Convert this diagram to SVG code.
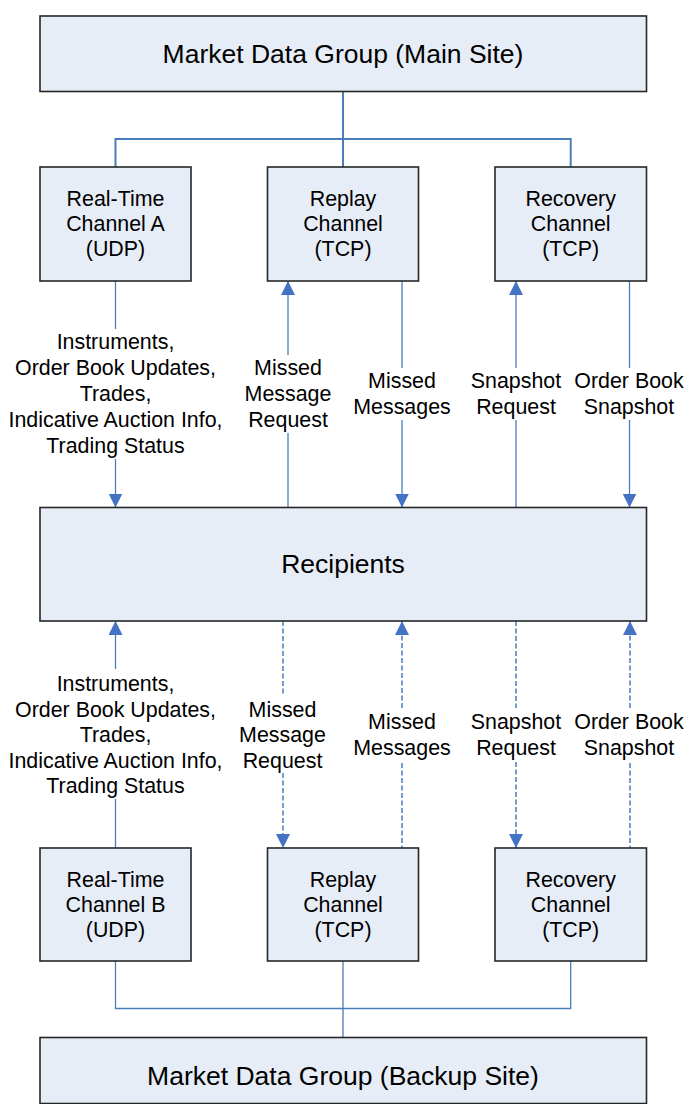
<svg xmlns="http://www.w3.org/2000/svg" width="685" height="1104" viewBox="0 0 685 1104">
<defs>
<style>
.box{fill:#E7EDF7;stroke:#262626;stroke-width:1.6}
.t{font-family:"Liberation Sans",Arial,sans-serif;font-size:21.4px;fill:#000;text-anchor:middle}
.tb{font-family:"Liberation Sans",Arial,sans-serif;font-size:26.5px;fill:#000;text-anchor:middle}
.tree{fill:none;stroke:#4A7EBB;stroke-width:2}
.tree2{fill:none;stroke:#4A7EBB;stroke-width:1.3}
.ln{fill:none;stroke:#4A7EBB;stroke-width:1.3}
.dash{fill:none;stroke:#4A7EBB;stroke-width:1.5;stroke-dasharray:5 2.5}
</style>
<marker id="ah" viewBox="0 0 14 14" refX="14" refY="7" markerWidth="14" markerHeight="14" markerUnits="userSpaceOnUse" orient="auto">
<path d="M0,0 L14,7 L0,14 z" fill="#4472C4"/>
</marker>
</defs>
<rect width="685" height="1104" fill="#fff"/>

<g id="connectors">
<path class="tree" d="M343,92 V139 M115.5,167 V139 H570.7 V167 M343,139 V167"/>
<path class="tree2" d="M115.5,961 V1008.5 H570.7 V961 M343,961 V1037.5"/>
<path class="ln" d="M115.5,281 V329"/>
<path class="ln" d="M115.5,459 V507.5" marker-end="url(#ah)"/>
<path class="ln" d="M288,507.5 V433"/>
<path class="ln" d="M288,355 V281" marker-end="url(#ah)"/>
<path class="ln" d="M402,281 V368"/>
<path class="ln" d="M402,420 V507.5" marker-end="url(#ah)"/>
<path class="ln" d="M516,507.5 V420"/>
<path class="ln" d="M516,368 V281" marker-end="url(#ah)"/>
<path class="ln" d="M629.5,281 V368"/>
<path class="ln" d="M629.5,420 V507.5" marker-end="url(#ah)"/>
<path class="ln" d="M115.5,669 V621" marker-end="url(#ah)"/>
<path class="ln" d="M115.5,799 V848"/>
<path class="dash" d="M283,621 V696"/>
<path class="dash" d="M283,773 V848" marker-end="url(#ah)"/>
<path class="dash" d="M402,708 V621" marker-end="url(#ah)"/>
<path class="dash" d="M402,763 V848"/>
<path class="dash" d="M516,621 V708"/>
<path class="dash" d="M516,762 V848" marker-end="url(#ah)"/>
<path class="dash" d="M630,708 V621" marker-end="url(#ah)"/>
<path class="dash" d="M630,763 V848"/>
</g>

<g id="labels">
<text class="t" x="115.5" y="349">Instruments,</text>
<text class="t" x="115.5" y="375">Order Book Updates,</text>
<text class="t" x="115.5" y="401">Trades,</text>
<text class="t" x="115.5" y="427">Indicative Auction Info,</text>
<text class="t" x="115.5" y="452.5">Trading Status</text>
<text class="t" x="288" y="375">Missed</text>
<text class="t" x="288" y="401">Message</text>
<text class="t" x="288" y="427">Request</text>
<text class="t" x="402" y="388">Missed</text>
<text class="t" x="402" y="414">Messages</text>
<text class="t" x="516" y="388">Snapshot</text>
<text class="t" x="516" y="414">Request</text>
<text class="t" x="629" y="388">Order Book</text>
<text class="t" x="629" y="414">Snapshot</text>

<text class="t" x="115.5" y="691">Instruments,</text>
<text class="t" x="115.5" y="716.5">Order Book Updates,</text>
<text class="t" x="115.5" y="742">Trades,</text>
<text class="t" x="115.5" y="767.5">Indicative Auction Info,</text>
<text class="t" x="115.5" y="793">Trading Status</text>
<text class="t" x="282.5" y="716.5">Missed</text>
<text class="t" x="282.5" y="742">Message</text>
<text class="t" x="282.5" y="767.5">Request</text>
<text class="t" x="402" y="729">Missed</text>
<text class="t" x="402" y="755">Messages</text>
<text class="t" x="516" y="729">Snapshot</text>
<text class="t" x="516" y="755">Request</text>
<text class="t" x="629" y="729">Order Book</text>
<text class="t" x="629" y="755">Snapshot</text>
</g>

<g id="main-site">
<rect class="box" x="40" y="16" width="606.5" height="75.5"/>
<text class="tb" x="343" y="62.5">Market Data Group (Main Site)</text>
</g>
<g id="rt-a">
<rect class="box" x="40" y="167" width="151" height="114"/>
<text class="t" x="115.5" y="206">Real-Time</text>
<text class="t" x="115.5" y="231">Channel A</text>
<text class="t" x="115.5" y="256">(UDP)</text>
</g>
<g id="replay-a">
<rect class="box" x="267.5" y="167" width="151" height="114"/>
<text class="t" x="343" y="206">Replay</text>
<text class="t" x="343" y="231">Channel</text>
<text class="t" x="343" y="256">(TCP)</text>
</g>
<g id="recovery-a">
<rect class="box" x="495" y="167" width="151.5" height="114"/>
<text class="t" x="570.7" y="206">Recovery</text>
<text class="t" x="570.7" y="231">Channel</text>
<text class="t" x="570.7" y="256">(TCP)</text>
</g>
<g id="recipients">
<rect class="box" x="40" y="507.5" width="606.5" height="113.5"/>
<text class="tb" x="343" y="572.5">Recipients</text>
</g>
<g id="rt-b">
<rect class="box" x="40" y="848" width="151" height="113"/>
<text class="t" x="115.5" y="887">Real-Time</text>
<text class="t" x="115.5" y="912">Channel B</text>
<text class="t" x="115.5" y="937">(UDP)</text>
</g>
<g id="replay-b">
<rect class="box" x="267.5" y="848" width="151" height="113"/>
<text class="t" x="343" y="887">Replay</text>
<text class="t" x="343" y="912">Channel</text>
<text class="t" x="343" y="937">(TCP)</text>
</g>
<g id="recovery-b">
<rect class="box" x="495" y="848" width="151.5" height="113"/>
<text class="t" x="570.7" y="887">Recovery</text>
<text class="t" x="570.7" y="912">Channel</text>
<text class="t" x="570.7" y="937">(TCP)</text>
</g>
<g id="backup-site">
<rect class="box" x="40" y="1037.5" width="606.5" height="66"/>
<text class="tb" x="343" y="1084.5">Market Data Group (Backup Site)</text>
</g>
</svg>
